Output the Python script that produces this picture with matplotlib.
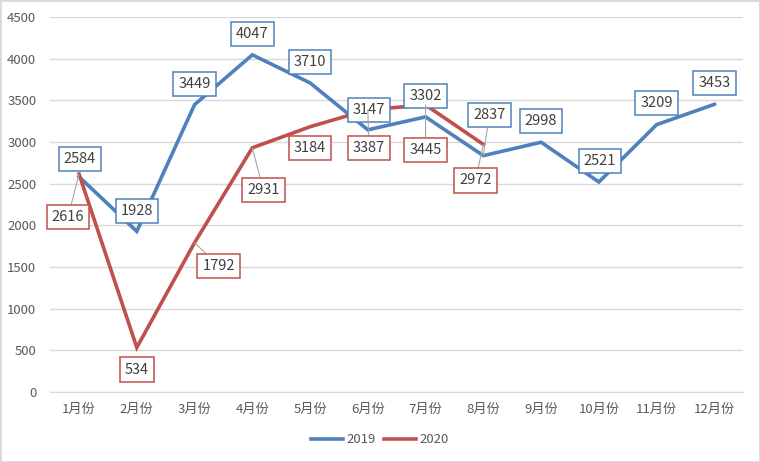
import matplotlib.pyplot as plt
from matplotlib.patches import Rectangle

plt.rcParams['font.family'] = ['Noto Sans CJK SC', 'DejaVu Sans']

months = ["1月份", "2月份", "3月份", "4月份", "5月份", "6月份",
          "7月份", "8月份", "9月份", "10月份", "11月份", "12月份"]
sales_2019 = [2584, 1928, 3449, 4047, 3710, 3147, 3302, 2837, 2998, 2521, 3209, 3453]
sales_2020 = [2616, 534, 1792, 2931, 3184, 3387, 3445, 2972]

# label offsets in pixels (box centre relative to point)
off_2019 = [(1, 18), (0, 20), (0, 21), (0, 21), (0, 21), (1, 20),
            (0, 21), (6, 41), (0, 21), (1, 21), (0, 22), (0, 21)]
off_2020 = [(-11, -43), (0, -22), (24, -23), (11, -42), (0, -21), (1, -38),
            (0, -45), (-8, -36)]
leader_2019 = [7]
leader_2020 = [0, 2, 3, 5, 6, 7]

blue = "#4F81BD"
red = "#C0504D"

fig = plt.figure(figsize=(7.6, 4.62), dpi=100)
ax = fig.add_axes([0.066, 0.1515, 0.912, 0.8115])

x = list(range(len(months)))
ax.plot(x, sales_2019, color=blue, lw=2.6, label="2019", zorder=3, solid_joinstyle='miter')
ax.plot(x[:len(sales_2020)], sales_2020, color=red, lw=2.6, label="2020", zorder=4,
        solid_joinstyle='miter')


def add_labels(vals, offs, leaders, col):
    for i, v in enumerate(vals):
        kw = {}
        if i in leaders:
            kw['arrowprops'] = dict(arrowstyle='-', color='#A6A6A6', lw=0.8,
                                    shrinkA=0, shrinkB=0)
        ax.annotate(str(v), (i, v), xytext=offs[i], textcoords='offset pixels',
                    ha='center', va='center', fontsize=10.5, color='#404040',
                    bbox=dict(boxstyle='square,pad=0.35', fc='white', ec=col, lw=1.1),
                    zorder=6, **kw)


add_labels(sales_2019, off_2019, leader_2019, blue)
add_labels(sales_2020, off_2020, leader_2020, red)

ax.set_xlim(-0.5, 11.5)
ax.set_ylim(0, 4500)
ax.set_yticks(range(0, 4501, 500))
ax.set_xticks(x)
ax.set_xticklabels(months)
ax.grid(axis='y', color='#D9D9D9', lw=1)
ax.set_axisbelow(True)
for s in ['left', 'right', 'top']:
    ax.spines[s].set_visible(False)
ax.spines['bottom'].set_color('#D9D9D9')
ax.tick_params(length=0, colors='#595959', labelsize=9.5)
ax.tick_params(axis='x', pad=8)
ax.tick_params(axis='y', pad=10)

fig.legend(loc='center', bbox_to_anchor=(0.5, 0.048), ncol=2, frameon=False,
           fontsize=9.5, labelcolor='#595959', handlelength=2.4, columnspacing=0.6,
           handletextpad=0.3)

fig.patches.append(Rectangle((0, 0), 1, 1, transform=fig.transFigure, fill=False,
                             ec='#D9D9D9', lw=2))

fig.savefig("out.png", dpi=100)
